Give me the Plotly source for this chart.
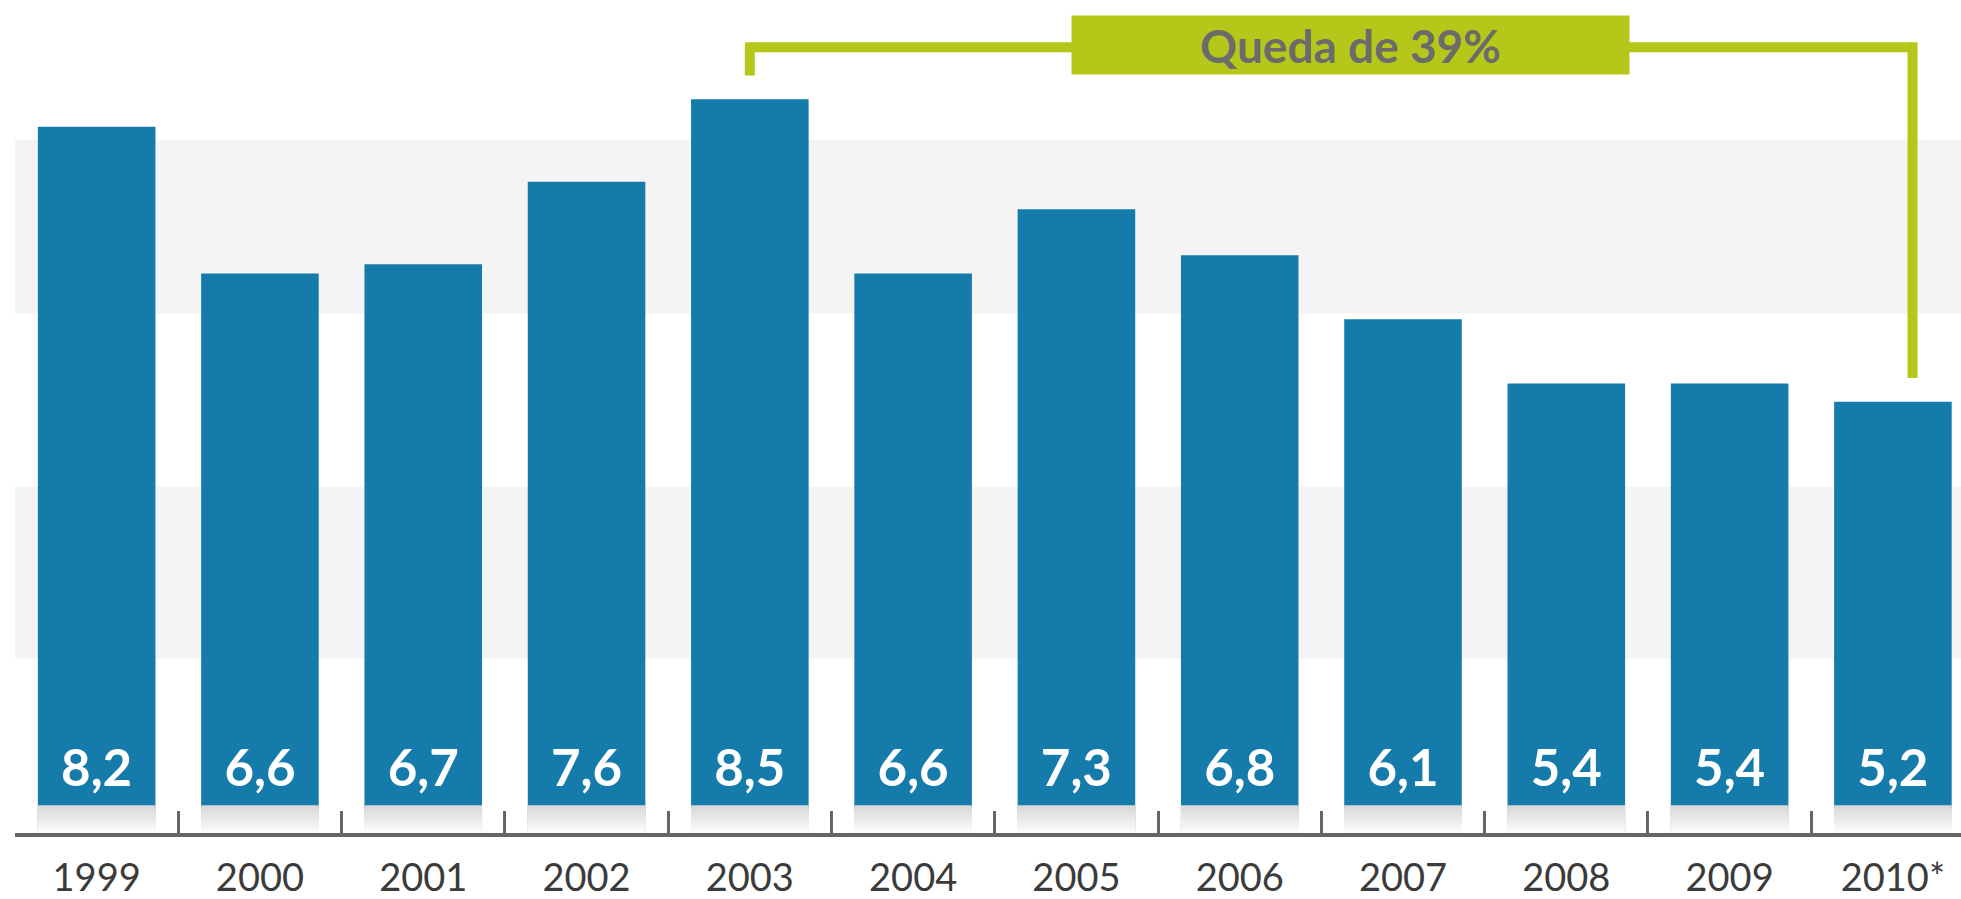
import plotly.graph_objects as go

# ---- data -------------------------------------------------------------
years = ["1999", "2000", "2001", "2002", "2003", "2004", "2005", "2006",
         "2007", "2008", "2009", "2010*"]
values = [8.2, 6.6, 6.7, 7.6, 8.5, 6.6, 7.3, 6.8, 6.1, 5.4, 5.4, 5.2]
bracket_label = "Queda de 39%"

# ---- style ------------------------------------------------------------
BAR_COLOR = "#157BAA"
GREEN = "#B5C81A"
BAND = "#F4F4F4"
AXIS_COLOR = "#666666"
FONT = "Lato"
Y_RANGE = [0.496, 9.584]
BAR_FLOOR = 0.80          # level where bars visually sit (shadow below)
BAR_WIDTH = 0.72
LABEL_Y = 1.145           # vertical level of value labels
BRACKET_TOP = 9.068
LEG_GAP = 0.26
RIGHT_LEG_SHIFT = 0.12
PLOT_H = 837

fig = go.Figure()

# main bars
fig.add_bar(x=years, y=values, width=BAR_WIDTH,
            marker=dict(color=BAR_COLOR, line_width=0), hoverinfo="skip")

# reflection / shadow under bars: overlapping slices, darkest (tallest) first
n = 14
lo, hi = Y_RANGE[0], BAR_FLOOR
for i in range(n):
    top = hi - (hi - lo) * i / n
    t = i / (n - 1)
    c = int(round(216 + (252 - 216) * t))
    fig.add_bar(x=years, y=[top - lo] * len(years), base=[lo] * len(years),
                width=BAR_WIDTH,
                marker=dict(color=f"rgb({c},{c},{c})", line_width=0),
                hoverinfo="skip")

# value labels
fig.add_scatter(x=years, y=[LABEL_Y] * len(years), mode="text",
                text=[f"{v:.1f}".replace(".", ",") for v in values],
                textposition="middle center",
                textfont=dict(family=FONT, size=51, color="white", weight="bold"),
                hoverinfo="skip", cliponaxis=False)

# background bands
shapes = []
def px2paper(p):
    return 1 - p / PLOT_H
for top_px, bot_px in [(141, 315), (489, 662)]:
    shapes.append(dict(type="rect", xref="paper", yref="paper", x0=0, x1=1,
                       y0=px2paper(bot_px), y1=px2paper(top_px), fillcolor=BAND,
                       line_width=0, layer="below"))

# bracket
i0 = values.index(max(values))
i1 = len(values) - 1 + RIGHT_LEG_SHIFT
y0 = values[i0] + LEG_GAP
y1 = values[-1] + LEG_GAP
ext = 0.054
lw = 10
shapes += [
    dict(type="line", xref="x", yref="y", x0=i0, x1=i0, y0=y0, y1=BRACKET_TOP + ext,
         line=dict(color=GREEN, width=lw), layer="above"),
    dict(type="line", xref="x", yref="y", x0=i0, x1=i1, y0=BRACKET_TOP, y1=BRACKET_TOP,
         line=dict(color=GREEN, width=lw), layer="above"),
    dict(type="line", xref="x", yref="y", x0=i1, x1=i1, y0=y1, y1=BRACKET_TOP + ext,
         line=dict(color=GREEN, width=lw), layer="above"),
]

fig.update_layout(
    width=1961, height=899, autosize=False,
    margin=dict(l=15, r=0, t=0, b=899 - PLOT_H, pad=0),
    barmode="overlay", showlegend=False,
    paper_bgcolor="white", plot_bgcolor="white",
    xaxis=dict(type="category", range=[-0.5, 11.417],
               showline=True, linecolor=AXIS_COLOR, linewidth=4,
               ticks="inside", tickson="boundaries", ticklen=22,
               tickwidth=3, tickcolor=AXIS_COLOR,
               ticklabelstandoff=8,
               tickfont=dict(family=FONT, size=38, color="#3B3B3B"),
               showgrid=False, zeroline=False, fixedrange=True),
    yaxis=dict(range=Y_RANGE, visible=False, showgrid=False,
               zeroline=False, fixedrange=True),
    shapes=shapes,
    annotations=[dict(text=f"<b>{bracket_label}</b>", xref="paper", yref="paper",
                      x=(1350 - 15) / 1946, y=px2paper(45),
                      xanchor="center", yanchor="middle", showarrow=False,
                      width=557, height=58, bgcolor=GREEN, borderpad=0,
                      font=dict(family=FONT, size=46, color="#6B6B6B"))],
)

fig.write_html("out.html", config={"displayModeBar": False},
               post_script="document.body.style.margin='0';")
